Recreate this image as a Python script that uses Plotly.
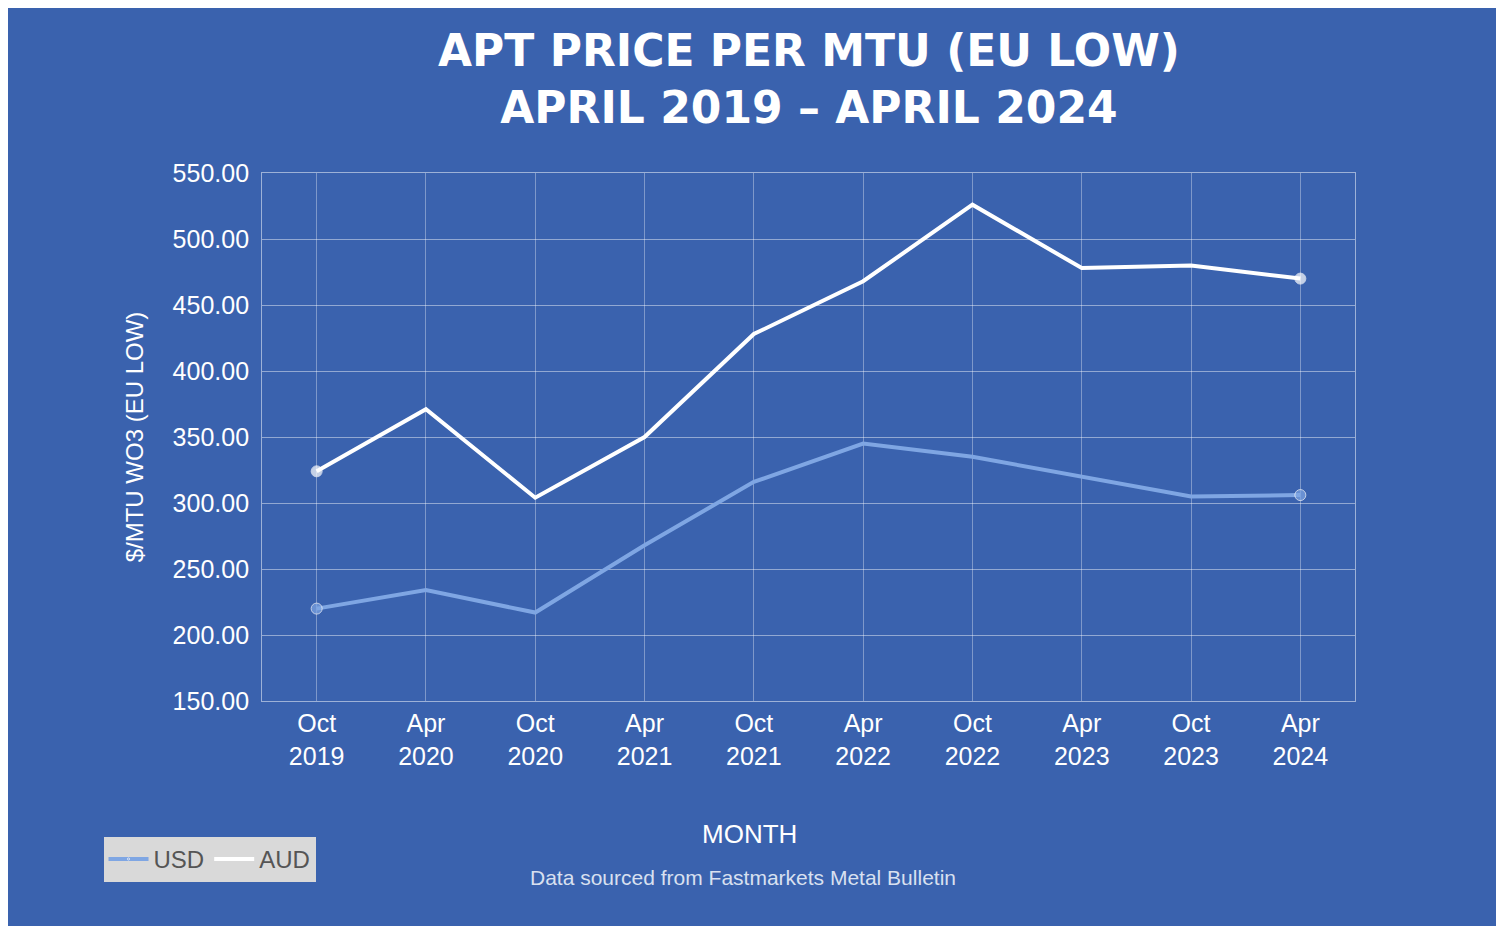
import plotly.graph_objects as go

months = ["Oct<br>2019", "Apr<br>2020", "Oct<br>2020", "Apr<br>2021", "Oct<br>2021",
          "Apr<br>2022", "Oct<br>2022", "Apr<br>2023", "Oct<br>2023", "Apr<br>2024"]
usd = [220, 234, 217, 268, 316, 345, 335, 320, 305, 306]
aud = [324, 371, 304, 350, 428, 468, 526, 478, 480, 470]

bg = "#3A62AE"
usd_col = "#7FA6E3"
ends = [11] + [0] * 8 + [11]

fig = go.Figure()
fig.add_trace(go.Scatter(x=months, y=usd, name="USD", mode="lines+markers",
                         line=dict(color=usd_col, width=4),
                         marker=dict(size=ends, color=usd_col)))
fig.add_trace(go.Scatter(x=months, y=aud, name="AUD", mode="lines+markers",
                         line=dict(color="white", width=4),
                         marker=dict(size=ends, color="white")))

fig.update_layout(
    width=1504, height=926,
    paper_bgcolor=bg, plot_bgcolor=bg,
    margin=dict(l=254, r=157, t=165, b=233),
    font=dict(family="Liberation Sans", color="white", size=24),
    showlegend=True,
    legend=dict(orientation="h", x=-0.145, y=-0.30, xanchor="left", yanchor="middle",
                bgcolor="#D9D9D9", font=dict(color="#555555", size=24),
                itemwidth=40),
)
fig.add_annotation(text="APT PRICE PER MTU (EU LOW)<br>APRIL 2019 \u2013 APRIL 2024",
                   x=0.5, y=1.0, xref="paper", yref="paper", yshift=150,
                   xanchor="center", yanchor="top", showarrow=False,
                   font=dict(family="DejaVu Sans", size=44, color="white", weight="bold"))
fig.update_xaxes(showgrid=True, gridcolor="rgba(255,255,255,0.35)", gridwidth=1,
                 showline=True, linecolor="rgba(255,255,255,0.5)", mirror=True,
                 ticks="", tickfont=dict(size=25), range=[-0.5, 9.5])
fig.update_yaxes(range=[150, 550], dtick=50, tickformat=".2f",
                 showgrid=True, gridcolor="rgba(255,255,255,0.45)",
                 showline=True, linecolor="rgba(255,255,255,0.5)", mirror=True,
                 tickfont=dict(size=25), ticksuffix=" ",
                 title=dict(text="$/MTU WO3 (EU LOW)", font=dict(size=24), standoff=22))
fig.add_annotation(text="MONTH", x=0.446, y=-0.285, xref="paper", yref="paper",
                   showarrow=False, font=dict(size=26, color="white"))
fig.add_annotation(text="Data sourced from Fastmarkets Metal Bulletin", x=0.44, y=-0.36,
                   xref="paper", yref="paper", showarrow=False,
                   font=dict(size=21, color="#D8E0F0"))

fig.write_html("out.html")
